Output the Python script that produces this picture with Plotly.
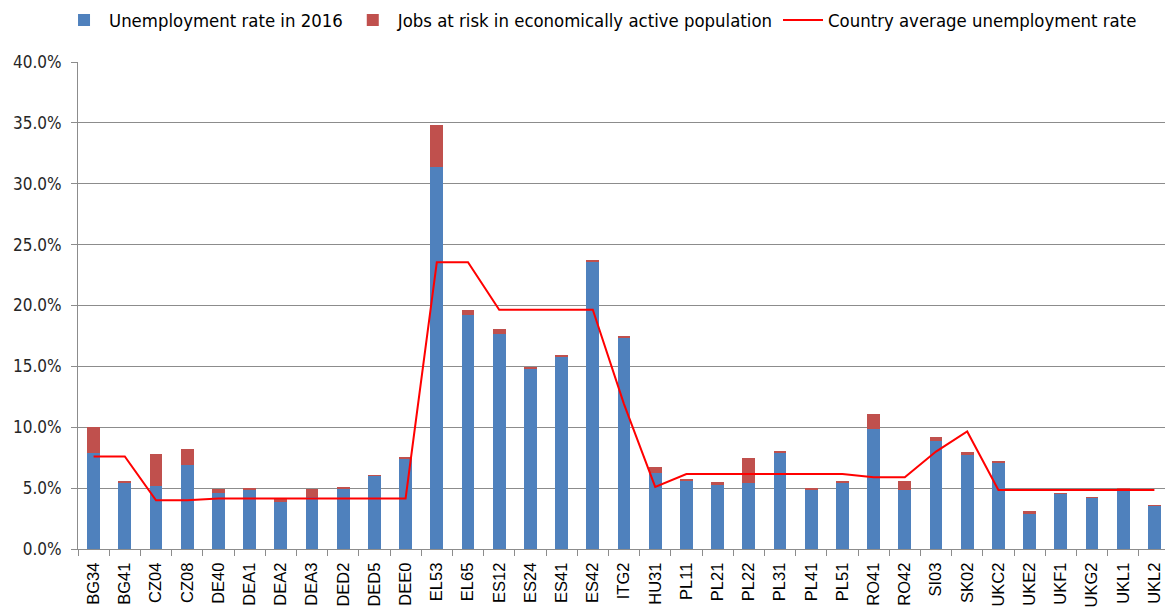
import plotly.graph_objects as go

regions = ["BG34", "BG41", "CZ04", "CZ08", "DE40", "DEA1", "DEA2", "DEA3", "DED2", "DED5",
           "DEE0", "EL53", "EL65", "ES12", "ES24", "ES41", "ES42", "ITG2", "HU31", "PL11",
           "PL21", "PL22", "PL31", "PL41", "PL51", "RO41", "RO42", "SI03", "SK02", "UKC2",
           "UKE2", "UKF1", "UKG2", "UKL1", "UKL2"]

unemployment_2016 = [7.9, 5.45, 5.15, 6.9, 4.57, 4.9, 3.9, 4.25, 4.9, 6.0,
                     7.4, 31.35, 19.2, 17.65, 14.75, 15.8, 23.58, 17.35, 6.27, 5.6,
                     5.23, 5.4, 7.95, 4.87, 5.48, 9.86, 4.85, 8.85, 7.72, 7.1,
                     2.9, 4.55, 4.22, 4.93, 3.56]

jobs_at_risk = [2.1, 0.14, 2.65, 1.3, 0.36, 0.05, 0.2, 0.7, 0.17, 0.05,
                0.08, 3.45, 0.42, 0.4, 0.22, 0.17, 0.08, 0.08, 0.5, 0.19,
                0.25, 2.08, 0.1, 0.1, 0.08, 1.23, 0.71, 0.38, 0.25, 0.08,
                0.25, 0.05, 0.05, 0.03, 0.05]

country_average = [7.6, 7.6, 4.0, 4.0, 4.15, 4.15, 4.15, 4.15, 4.15, 4.15,
                   4.15, 23.55, 23.55, 19.65, 19.65, 19.65, 19.65, 11.9, 5.1, 6.15,
                   6.15, 6.15, 6.15, 6.15, 6.15, 5.9, 5.9, 8.0, 9.65, 4.85,
                   4.85, 4.85, 4.85, 4.85, 4.85]

y_ticks = [0, 5, 10, 15, 20, 25, 30, 35, 40]

FONT = "DejaVu Sans Condensed, sans-serif"
XFONT = "Liberation Sans, Arial, sans-serif"

fig = go.Figure()
fig.add_trace(go.Bar(x=regions, y=unemployment_2016, name="Unemployment rate in 2016",
                     marker=dict(color="#4F81BD", line=dict(width=0))))
fig.add_trace(go.Bar(x=regions, y=jobs_at_risk, name="Jobs at risk in economically active population",
                     marker=dict(color="#C0504D", line=dict(width=0))))
fig.add_trace(go.Scatter(x=regions, y=country_average, mode="lines",
                         name="Country average unemployment rate",
                         line=dict(color="#FF0000", width=2)))

fig.update_layout(
    width=1165, height=600,
    barmode="stack", bargap=0.59,
    plot_bgcolor="white", paper_bgcolor="white",
    margin=dict(l=70, r=3, t=54, b=59, autoexpand=False),
    font=dict(family=FONT, size=16, color="#000000"),
    legend=dict(orientation="h", xref="paper", yref="paper",
                x=0.4785, xanchor="center", y=1.0862, yanchor="middle",
                font=dict(size=18.4), traceorder="normal",
                itemwidth=40, tracegroupgap=0),
    showlegend=True,
)
fig.update_yaxes(range=[0, 40], tickvals=y_ticks,
                 ticktext=[f"{v:.1f}%" for v in y_ticks],
                 showgrid=True, gridcolor="#8C8C8C", gridwidth=1,
                 showline=True, linecolor="#8C8C8C", linewidth=1,
                 ticks="outside", ticklen=6, tickcolor="#8C8C8C",
                 ticklabelstandoff=6,
                 tickfont=dict(size=17, color="#262626"), zeroline=False)
fig.update_xaxes(showline=True, linecolor="#8C8C8C", linewidth=1,
                 ticks="outside", tickson="boundaries", ticklen=6, tickcolor="#8C8C8C",
                 ticklabelstandoff=6,
                 tickangle=-90, tickfont=dict(family=XFONT, size=16.5, color="#000000"),
                 showgrid=False)

fig.write_html("out.html")
